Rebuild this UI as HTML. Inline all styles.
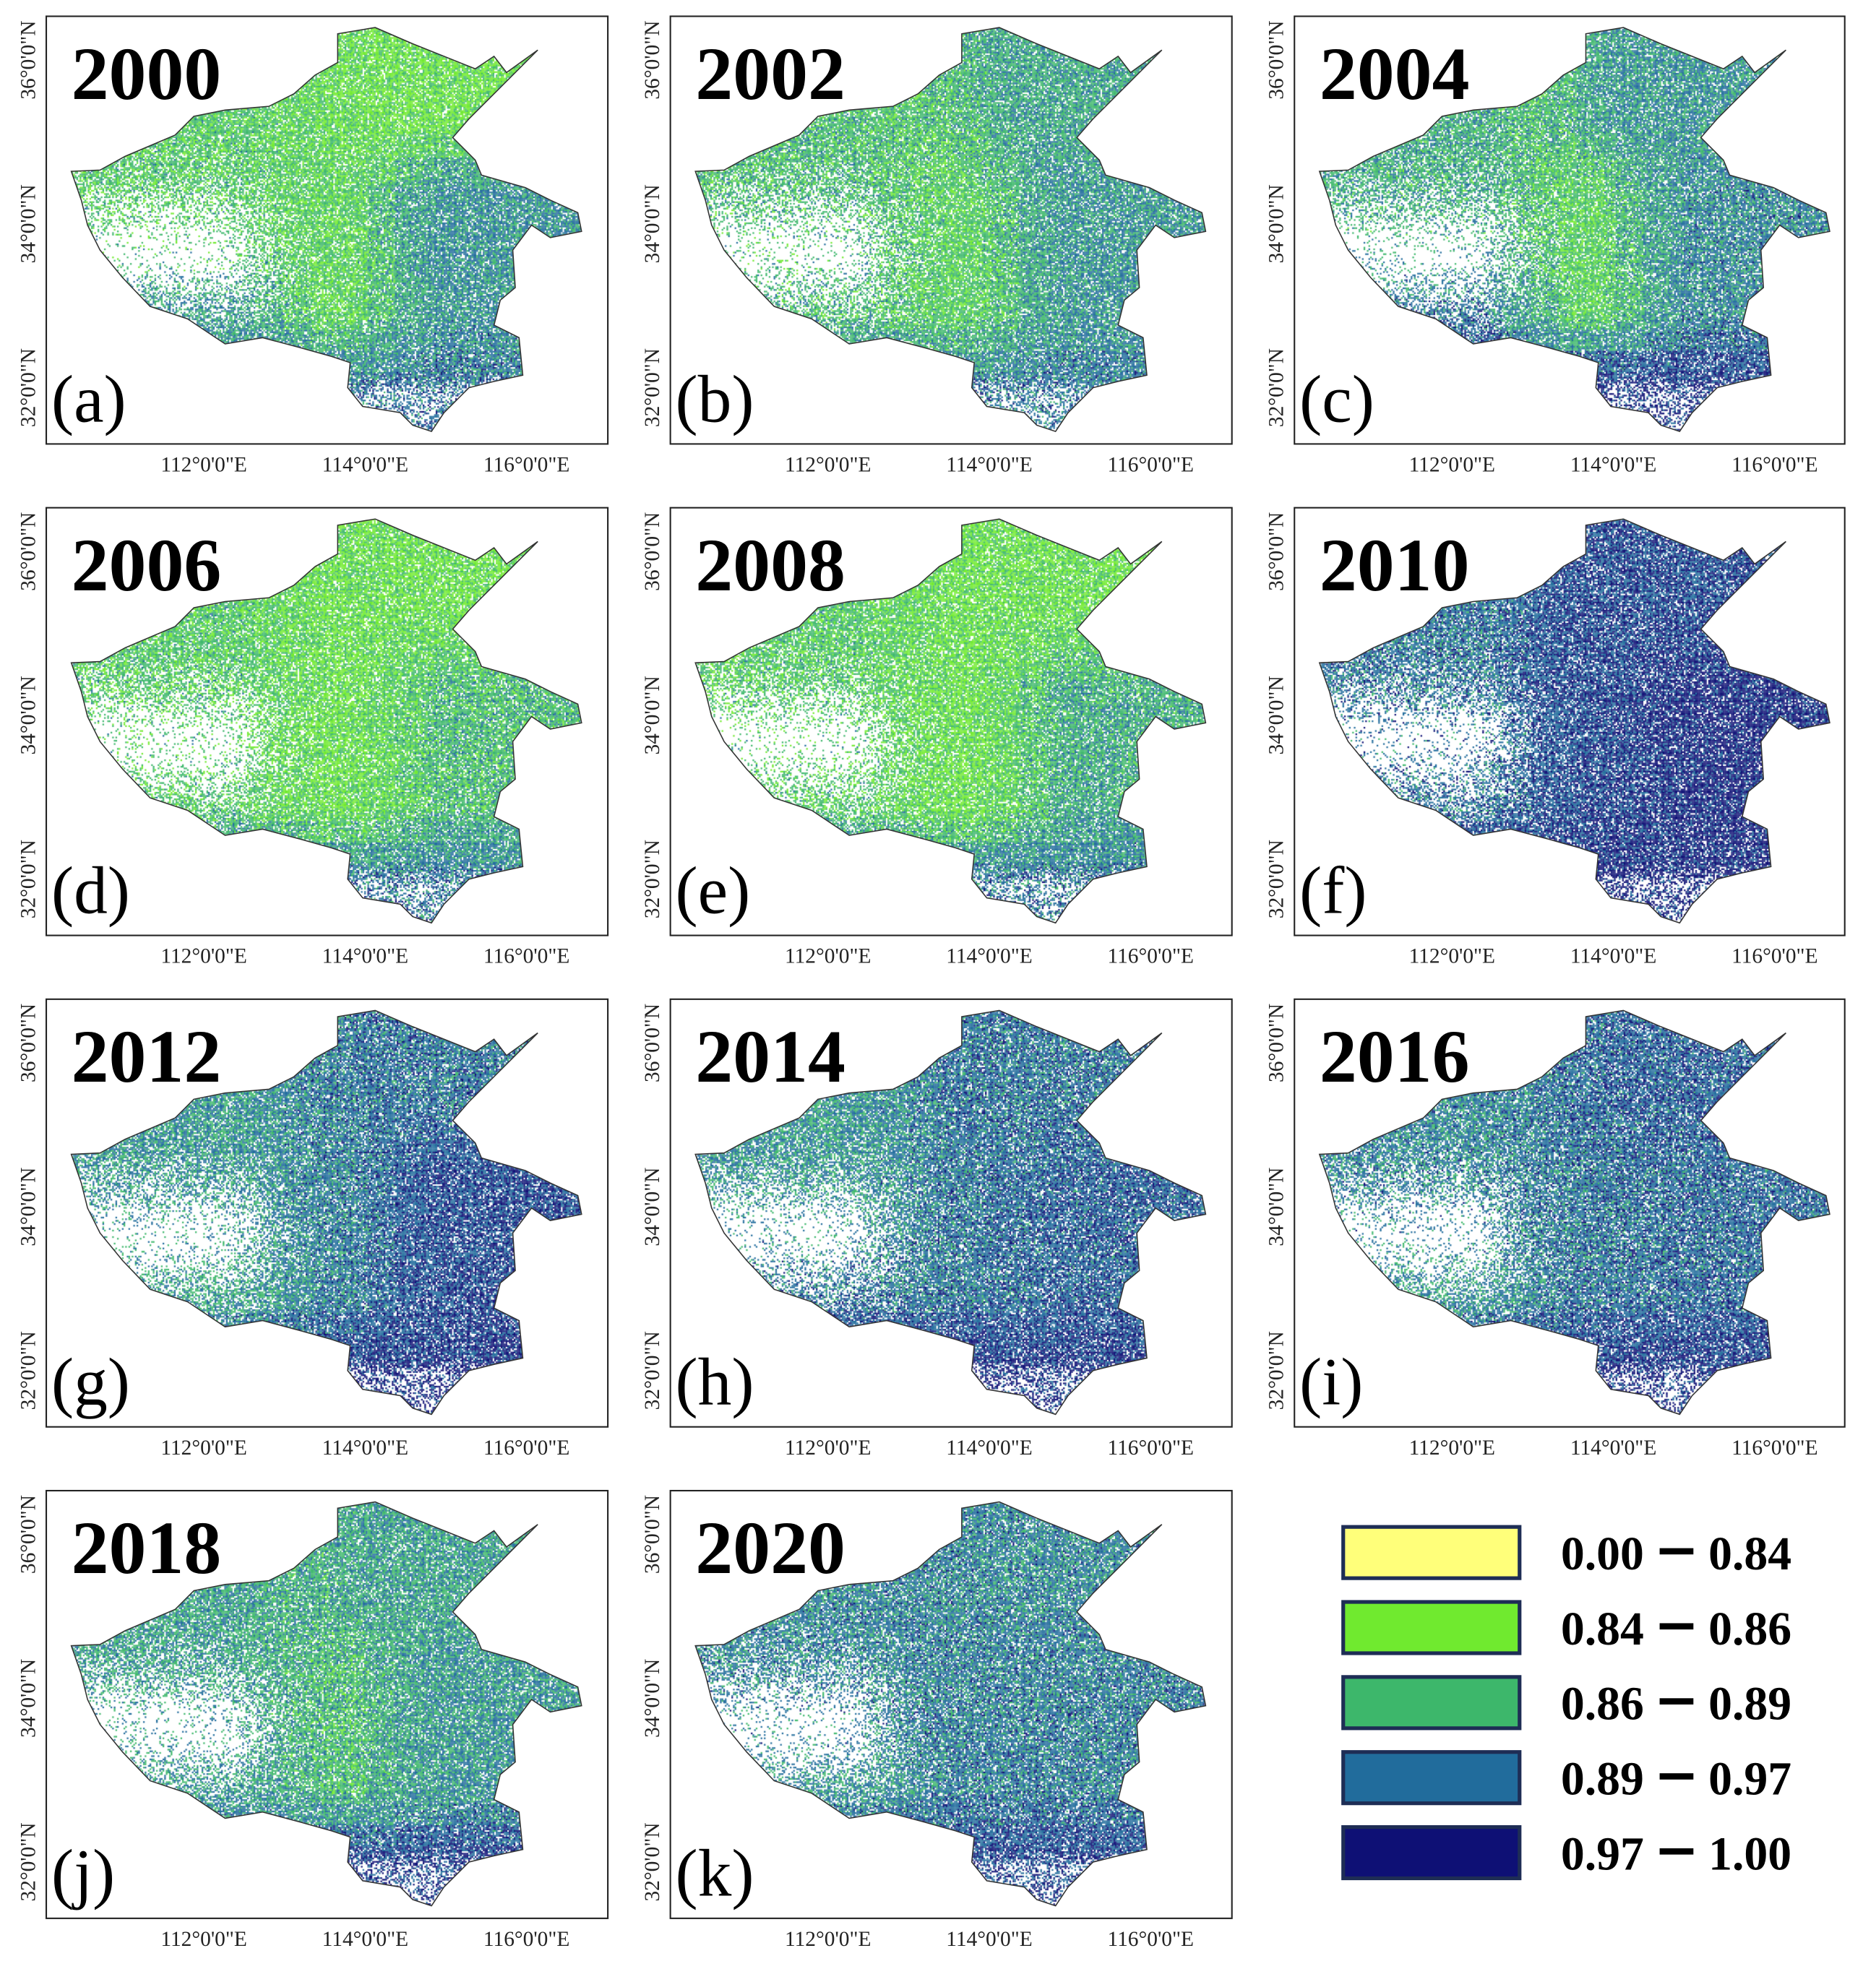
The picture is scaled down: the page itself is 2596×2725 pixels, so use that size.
<!DOCTYPE html>
<html><head><meta charset="utf-8"><style>
html,body{margin:0;padding:0;background:#fff;}
#wrap{position:relative;width:2596px;height:2725px;}
canvas,svg{position:absolute;left:0;top:0;}
</style></head><body>
<div id="wrap">
<canvas id="cv" width="2596" height="2725"></canvas>
<svg id="sv" width="2596" height="2725" viewBox="0 0 1500 1574.5"></svg>
</div>
<script>
// ---- data ----
const years = ["2000","2002","2004","2006","2008","2010","2012","2014","2016","2018","2020"];
const letters = ["(a)","(b)","(c)","(d)","(e)","(f)","(g)","(h)","(i)","(j)","(k)"];
// mean class (1=0.84-0.86 ... 4=0.97-1.00) per region: N, W, C, E, SW, S
const regionNorth = [1.3,2.3,2.6,1.3,1.3,3.5,3.0,3.0,3.2,2.4,2.8];
const regionWest  = [1.8,2.0,2.2,1.8,1.8,3.0,2.6,2.6,2.8,2.4,2.8];
const regionCentral=[1.6,1.7,1.7,1.3,1.3,3.5,2.9,3.0,3.0,2.0,2.9];
const regionEast  = [2.7,2.6,2.8,2.0,2.2,3.9,3.5,3.2,3.1,2.6,2.9];
const regionSW    = [2.5,2.0,3.0,1.8,1.8,3.0,2.3,3.0,2.6,2.5,2.6];
const regionSouth = [3.0,3.0,3.7,3.0,3.0,3.9,3.8,3.8,3.8,3.6,3.5];
const legendLabels = [["0.00","0.84"],["0.84","0.86"],["0.86","0.89"],["0.89","0.97"],["0.97","1.00"]];
const classColors = ["#ffff7a","#70ea2f","#3db76b","#216c9c","#0e1075"];
const lonTicks = [112,114,116];
const latTicks = [36,34,32];

const S = 2596/1500;
const NS = "http://www.w3.org/2000/svg";
const svg = document.getElementById('sv');
const ctx = document.getElementById('cv').getContext('2d');
ctx.scale(S,S);
function mk(tag, attrs, parent){const e=document.createElementNS(NS,tag);for(const k in attrs)e.setAttribute(k,attrs[k]);(parent||svg).appendChild(e);return e;}

const colX=[37,536,1035], rowY=[13,406,799,1192];
const outlineAbs=[[270,27],[300,22],[330,35],[380,55],[395,45],[405,58],[430,40],[395,75],[375,95],[362,110],[380,128],[385,140],[420,150],[440,160],[462,170],[465,185],[440,190],[425,180],[410,200],[412,230],[400,240],[395,260],[415,270],[418,300],[395,305],[375,310],[355,330],[345,345],[330,340],[320,330],[290,325],[278,310],[280,290],[265,285],[240,278],[210,270],[180,275],[150,255],[120,245],[98,222],[80,200],[70,180],[65,160],[57,137],[80,136],[100,125],[140,108],[155,93],[180,88],[215,85],[235,75],[252,60],[270,50]];
const outline=outlineAbs.map(p=>[p[0]-37,p[1]-13]);
function hash(a,b,c){let h=(a*374761393+b*668265263+c*2147483647)|0;h=(h^(h>>>13))*1274126177|0;h=h^(h>>>16);return ((h>>>0)%10000)/10000;}
function regionVal(i,fx,fy){
  if(fy>0.78) return regionSouth[i];
  if(fy<0.33 && fx>0.5) return regionNorth[i];
  if(fx<0.42 && fy>0.6) return regionSW[i];
  if(fx<0.42) return regionWest[i];
  if(fx<0.62) return regionCentral[i];
  return regionEast[i];
}
const offs=[[0,0],[0.07,0],[-0.07,0],[0,0.07],[0,-0.07],[0.05,0.05],[-0.05,-0.05],[0.05,-0.05],[-0.05,0.05]];
function density(fx,fy){
  const gx=fx<0.3?1:Math.exp(-Math.pow((fx-0.3)/0.1,2));
  const gy=Math.exp(-Math.pow((fy-0.55)/0.14,2));
  const gs=fy>0.84?Math.min(1,(fy-0.84)/0.04):0;
  return 0.85-0.75*gx*gy-0.4*gs;
}

years.forEach((yr,i)=>{
  const c=i%3, r=Math.floor(i/3);
  const x0=colX[c], y0=rowY[r], w=(c===2?440:449), h=342;
  const xScale=lon=>x0+126+(lon-112)*64.5;
  const yScale=lat=>y0+35+(36-lat)*65.5;
  ctx.save();
  ctx.beginPath();
  outline.forEach((p,k)=>{k?ctx.lineTo(x0+p[0],y0+p[1]):ctx.moveTo(x0+p[0],y0+p[1]);});
  ctx.closePath();
  ctx.clip();
  const cs=1.3;
  for(let yy=5;yy<340;yy+=cs){
    for(let xx=15;xx<435;xx+=cs){
      const fx=xx/449, fy=yy/342;
      let v=0;
      offs.forEach(o=>{v+=regionVal(i,fx+o[0],fy+o[1]);});
      v/=offs.length;
      const dens=density(fx,fy);
      const a=Math.round(xx/cs), b=Math.round(yy/cs);
      if(hash(a,b,i+7)>dens) continue;
      let cl=Math.round(v+(hash(a,b,i+101)-0.5)*1.6);
      cl=Math.max(1,Math.min(4,cl));
      ctx.fillStyle=classColors[cl];
      ctx.fillRect(x0+xx,y0+yy,cs,cs);
    }
  }
  ctx.restore();
  const g=mk('g',{});
  
  
  const poly=mk('polygon',{points:outline.map(p=>(x0+p[0])+','+(y0+p[1])).join(' '),fill:'none',stroke:'#333',"stroke-width":0.9},g);
  
  
  const fr=mk('rect',{x:x0,y:y0,width:w,height:h,fill:'none',stroke:'#222',"stroke-width":1.2},g);
  
  
  const t=mk('text',{x:x0+20,y:y0+66,"font-family":"Liberation Serif, serif","font-weight":"bold","font-size":60},g);
  t.textContent=yr;
  
  
  const l=mk('text',{x:x0+4,y:y0+324,"font-family":"Liberation Serif, serif","font-size":54},g);
  l.textContent=letters[i];
  
  
  lonTicks.forEach(lon=>{
    const tx=mk('text',{x:xScale(lon),y:y0+364,"text-anchor":"middle","font-family":"Liberation Serif, serif","font-size":17,fill:"#222"},g);
    tx.textContent=lon+'°0\'0"E';
    
    
  });
  latTicks.forEach(lat=>{
    const yy=yScale(lat);
    const ty=mk('text',{x:0,y:0,transform:`translate(${x0-9},${yy}) rotate(-90)`,"text-anchor":"middle","font-family":"Liberation Serif, serif","font-size":17,fill:"#222"},g);
    ty.textContent=lat+'°0\'0"N';
    
    
  });
});

// legend
const lg=mk('g',{});


legendLabels.forEach((lab,k)=>{
  const y=1221+60*k;
  const rc=mk('rect',{x:1074,y:y,width:141,height:41,fill:classColors[k],stroke:'#1e2d55',"stroke-width":3},lg);
  
  
  const tx=mk('text',{x:1248,y:y+34,"font-family":"Liberation Serif, serif","font-weight":"bold","font-size":38},lg);
  tx.textContent=lab[0];
  
  
  const dash=mk('rect',{x:1327,y:y+17,width:27,height:5,fill:'#000'},lg);
  
  
  const tx2=mk('text',{x:1366,y:y+34,"font-family":"Liberation Serif, serif","font-weight":"bold","font-size":38},lg);
  tx2.textContent=lab[1];
  
  
});
</script>
</body></html>
